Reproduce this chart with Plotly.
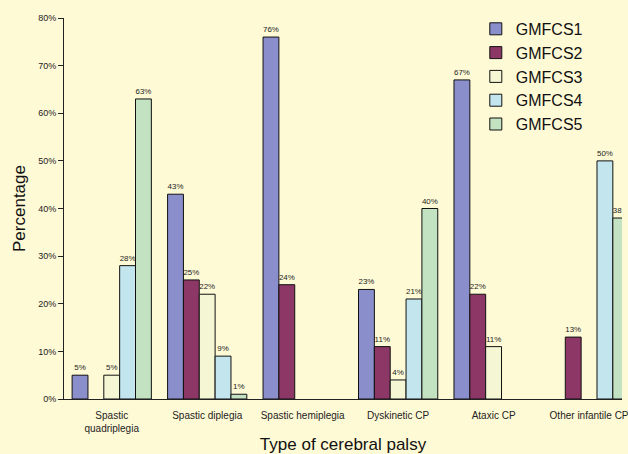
import plotly.graph_objects as go

categories = ["Spastic<br>quadriplegia", "Spastic diplegia", "Spastic hemiplegia",
              "Dyskinetic CP", "Ataxic CP", "Other infantile CP"]
gmfcs1 = [5, 43, 76, 23, 67, None]
gmfcs2 = [None, 25, 24, 11, 22, 13]
gmfcs3 = [5, 22, None, 4, 11, None]
gmfcs4 = [28, 9, None, 21, None, 50]
gmfcs5 = [63, 1, None, 40, None, 38]
series_names = ["GMFCS1", "GMFCS2", "GMFCS3", "GMFCS4", "GMFCS5"]
series_values = [gmfcs1, gmfcs2, gmfcs3, gmfcs4, gmfcs5]
colors = ["#8a8fcb", "#8c3766", "#f5f7d4", "#c3e6ee", "#c3e2c1"]
y_ticks = [0, 10, 20, 30, 40, 50, 60, 70, 80]

font_family = "Arial, Liberation Sans, sans-serif"
bg = "#fffad6"

fig = go.Figure()
for name, vals, col in zip(series_names, series_values, colors):
    fig.add_trace(go.Bar(
        name=name, x=categories, y=vals,
        marker=dict(color=col, line=dict(color="#111111", width=1)),
        text=[f"{v}%" if v is not None else "" for v in vals],
        textposition="outside", textfont=dict(size=8, color="#222222", family=font_family),
        cliponaxis=True,
    ))

fig.update_layout(
    width=628, height=454,
    margin=dict(l=64, r=0, t=18, b=55),
    paper_bgcolor=bg, plot_bgcolor=bg,
    barmode="group", bargap=0.17, bargroupgap=0,
    font=dict(family=font_family, color="#111111"),
    showlegend=True,
    legend=dict(x=0.738, y=1.016, xanchor="left", yanchor="top",
                font=dict(size=16, family=font_family, color="#111111"),
                bgcolor="rgba(0,0,0,0)"),
)
fig.update_xaxes(
    range=[-0.5, 5.345], showline=True, linecolor="#222222", linewidth=1,
    ticks="", showgrid=False, tickfont=dict(size=10, family=font_family, color="#222222"),
    ticklabelstandoff=7,
    title=dict(text="Type of cerebral palsy", font=dict(size=17, family=font_family, color="#111111"), standoff=8),
    fixedrange=True,
)
fig.update_yaxes(
    range=[0, 80], tickvals=y_ticks, ticktext=[f"{t}%" for t in y_ticks],
    showline=True, linecolor="#222222", linewidth=1, ticks="outside", ticklen=5,
    tickcolor="#222222", showgrid=False, zeroline=False,
    tickfont=dict(size=9, family=font_family, color="#222222"),
    title=dict(text="Percentage", font=dict(size=17, family=font_family, color="#111111"), standoff=8),
)

fig.write_html("out.html", config={"displayModeBar": False},
               post_script="document.body.style.margin='0';document.body.style.background='" + bg + "';")
